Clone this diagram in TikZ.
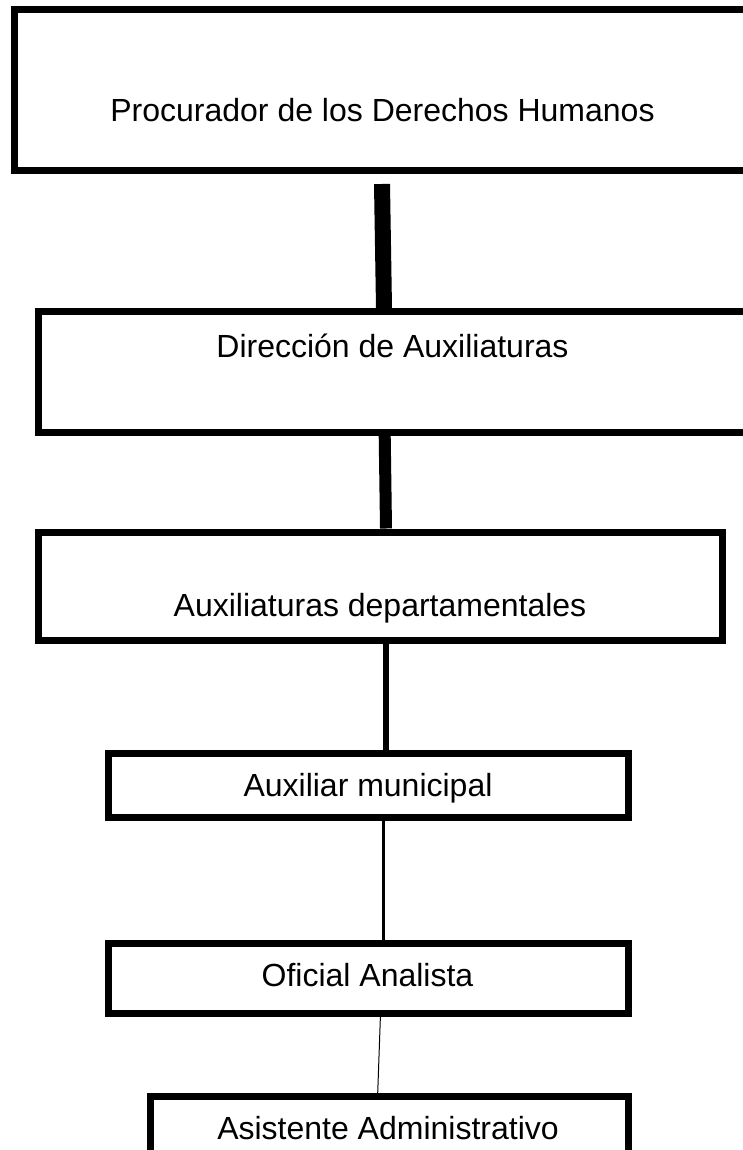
\documentclass[tikz,border=0pt]{standalone}
\usepackage{fontspec}
\setmainfont{Liberation Sans}
\begin{document}
\begin{tikzpicture}[x=1pt,y=-1pt,
  orgbox/.style={draw=black,line width=7pt,inner sep=0pt,fill=none},
  lbl/.style={anchor=base,inner sep=0pt,font=\fontsize{32}{38}\selectfont},
  conn/.style={draw=black,line cap=butt}]
\useasboundingbox (0,0) rectangle (743,1150);
\clip (0,0) rectangle (743,1150);
\fill[white] (0,0) rectangle (743,1150);
% boxes
\node[orgbox,minimum width=746pt,minimum height=161.2pt] (b1) at (387,90.1) {};
\node[orgbox,minimum width=721.2pt,minimum height=120.2pt] (b2) at (399.4,371.9) {};
\node[orgbox,minimum width=683.9pt,minimum height=108pt] (b3) at (380.75,586) {};
\node[orgbox,minimum width=520pt,minimum height=63.9pt] (b4) at (368,785.75) {};
\node[orgbox,minimum width=520pt,minimum height=70pt] (b5) at (368,978) {};
\node[orgbox,minimum width=478pt,minimum height=73.3pt] (b6) at (389,1133.35) {};
% labels
\node[lbl] (t1) at (382.5,122) {Procurador de los Derechos Humanos};
\node[lbl] (t2) at (392.5,357) {Dirección de Auxiliaturas};
\node[lbl] (t3) at (380,616) {Auxiliaturas departamentales};
\node[lbl] (t4) at (368,796.5) {Auxiliar municipal};
\node[lbl] (t5) at (367.5,986.5) {Oficial Analista};
\node[lbl] (t6) at (388,1139.5) {Asistente Administrativo};
% connectors
\coordinate (c1top) at (382,184);
\draw[conn,line width=16pt] (c1top) -- ([xshift=-15.4pt]b2.north);
\draw[conn,line width=12pt] ([xshift=-14.7pt]b2.south) -- ([xshift=5.25pt]b3.north);
\draw[conn,line width=6pt] ([xshift=5.55pt]b3.south) -- ([xshift=18.3pt]b4.north);
\draw[conn,line width=3pt] ([xshift=15.5pt]b4.south) -- ([xshift=15.5pt]b5.north);
\draw[conn,line width=1pt] ([xshift=12.4pt]b5.south) -- ([xshift=-11.3pt]b6.north);
\end{tikzpicture}
\end{document}
